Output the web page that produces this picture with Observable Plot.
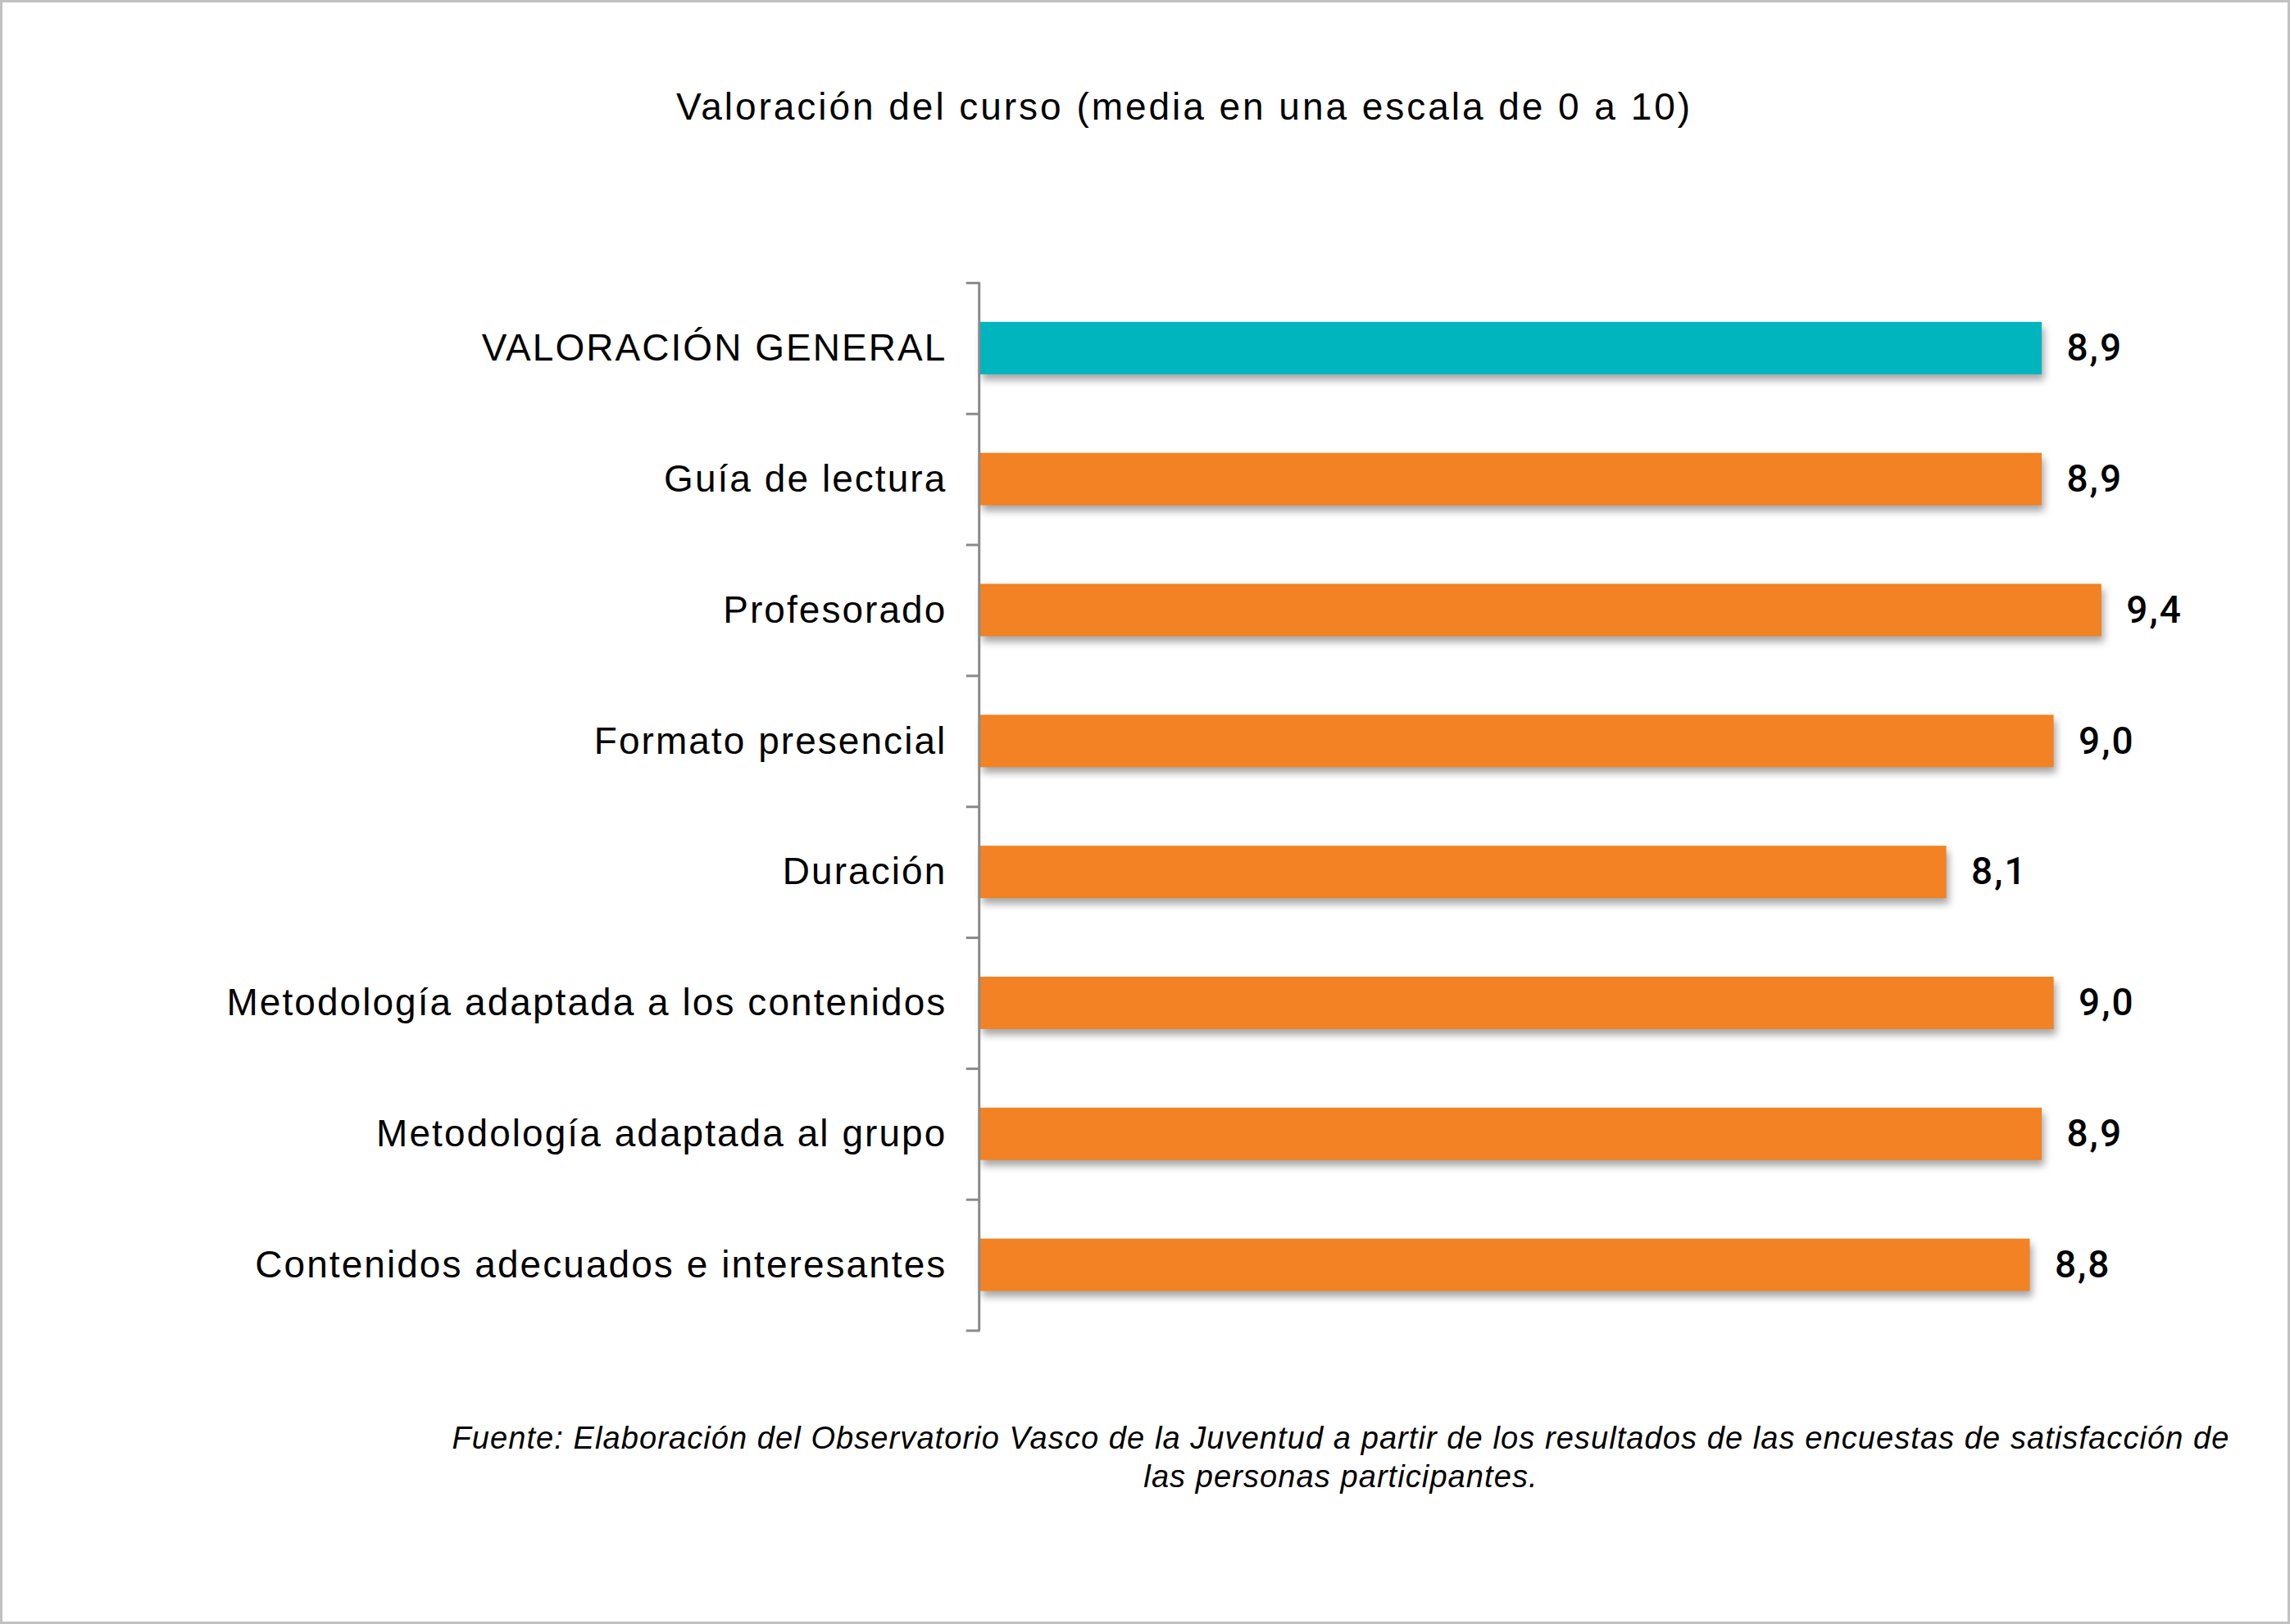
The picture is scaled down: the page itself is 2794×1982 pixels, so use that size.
<!DOCTYPE html>
<html>
<head>
<meta charset="utf-8">
<script src="https://cdn.jsdelivr.net/npm/d3@7"></script>
<script src="https://cdn.jsdelivr.net/npm/@observablehq/plot@0.6"></script>
<style>
  html, body { margin: 0; padding: 0; background: #fff; }
  #frame { position: relative; width: 2794px; height: 1982px; box-sizing: border-box;
           border: 3px solid #c2c2c2; overflow: hidden; background: #fff;
           font-family: "Liberation Sans", Arial, sans-serif; color: #000; }
  #title { position: absolute; left: 442px; top: 104px; width: 2000px; text-align: center;
           font-size: 46px; line-height: 46px; white-space: nowrap; }
  #chart { position: absolute; left: -3px; top: 247px; }
  #caption { position: absolute; left: 333px; top: 1729px; width: 2600px; text-align: center;
             font-size: 38px; line-height: 47px; font-style: italic; white-space: nowrap; }
</style>
</head>
<body>
<div id="frame">
  <div id="title"></div>
  <div id="chart"></div>
  <div id="caption"></div>
</div>
<script>
// ---- data ----
const categories = [
  "VALORACIÓN GENERAL",
  "Guía de lectura",
  "Profesorado",
  "Formato presencial",
  "Duración",
  "Metodología adaptada a los contenidos",
  "Metodología adaptada al grupo",
  "Contenidos adecuados e interesantes"
];
const values = [8.9, 8.9, 9.4, 9.0, 8.1, 9.0, 8.9, 8.8];
const highlightCategory = "VALORACIÓN GENERAL";
const xDomain = [0, 10];
const titleText = "Valoración del curso (media en una escala de 0 a 10)";
const captionLines = [
  "Fuente: Elaboración del Observatorio Vasco de la Juventud a partir de los resultados de las encuestas de satisfacción de",
  "las personas participantes."
];

// ---- styles ----
const TEAL = "#00B5BD";
const ORANGE = "#F28223";
const AXIS_GRAY = "#8a8a8a";
const LABEL_FONT = '"Liberation Sans", Arial, sans-serif';
const VALUE_FONT = 'Roboto, "Liberation Sans", Arial, sans-serif';

const canvas = document.createElement("canvas");
const ctx = canvas.getContext("2d");
function spacingFor(text, font, target) {
  ctx.font = font;
  const w = ctx.measureText(text).width;
  return (target - w) / text.length;
}

// title
const titleEl = document.getElementById("title");
titleEl.textContent = titleText;
titleEl.style.letterSpacing = spacingFor(titleText, '46px "Liberation Sans"', 1240) + "px";

// caption
const capEl = document.getElementById("caption");
captionLines.forEach((t, i) => {
  if (i) capEl.appendChild(document.createElement("br"));
  capEl.appendChild(document.createTextNode(t));
});
capEl.style.letterSpacing = spacingFor(captionLines[0], 'italic 38px "Liberation Sans"', 2169) + "px";

// chart
const data = categories.map((c, i) => ({cat: c, value: values[i]}));
const W = 2794, H = 1395, mt = 95, mb = 20, ml = 1197, mr = 140;
const step = (H - mt - mb) / categories.length;
const labelSpacing = spacingFor(categories[5], '46px "Liberation Sans"', 880);
const fmt = v => v.toFixed(1).replace(".", ",");

const chart = Plot.plot({
  width: W, height: H,
  marginTop: mt, marginBottom: mb, marginLeft: ml, marginRight: mr,
  style: {fontFamily: LABEL_FONT, background: "transparent", color: "#000", overflow: "visible"},
  x: {domain: xDomain, axis: null},
  y: {type: "band", domain: categories, paddingInner: 0.6, paddingOuter: 0.3, align: 0.5},
  marks: [
    Plot.barX(data, {x: "value", y: "cat", fill: d => d.cat === highlightCategory ? TEAL : ORANGE}),
    Plot.ruleX([0], {stroke: AXIS_GRAY, strokeWidth: 3, dx: -1.5}),
    Plot.ruleY(categories, {y: d => d, x1: 0, x2: 0, insetLeft: -17, dy: -step / 2, stroke: AXIS_GRAY, strokeWidth: 3}),
    Plot.ruleY([categories[categories.length - 1]], {y: d => d, x1: 0, x2: 0, insetLeft: -17, dy: step / 2, stroke: AXIS_GRAY, strokeWidth: 3}),
    Plot.axisY({tickSize: 0, tickPadding: 43 - labelSpacing, fontSize: 46, label: null}),
    Plot.text(data, {x: "value", y: "cat", text: d => fmt(d.value), dx: 30, textAnchor: "start",
                     fontSize: 46, fontWeight: 500, fontFamily: VALUE_FONT, fill: "#000"})
  ]
});

d3.select(chart).selectAll('g[aria-label="bar"]')
  .style("filter", "drop-shadow(3px 7px 5px rgba(0,0,0,0.35))");
d3.select(chart).selectAll('g[aria-label^="y-axis"] text')
  .style("letter-spacing", labelSpacing + "px");
d3.select(chart).selectAll('g[aria-label="text"] text')
  .style("letter-spacing", "2px");

document.getElementById("chart").appendChild(chart);
</script>
</body>
</html>
